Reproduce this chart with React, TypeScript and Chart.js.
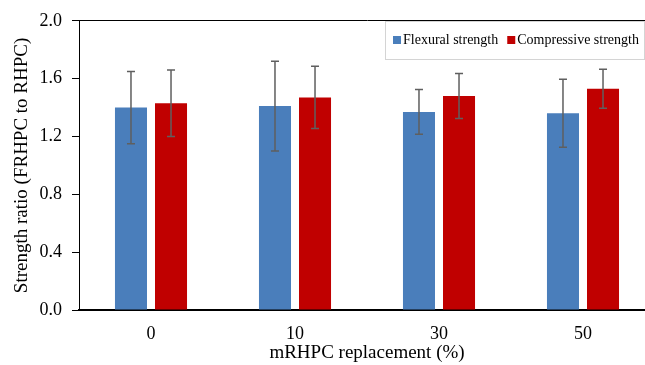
import React, { useEffect, useRef } from 'react';
import { Chart, registerables } from 'chart.js';

Chart.register(...registerables);

const categories = ['0', '10', '30', '50'];
const flexural = [1.40, 1.41, 1.37, 1.36];
const flexuralErr = [0.25, 0.31, 0.155, 0.235];
const compressive = [1.43, 1.47, 1.48, 1.53];
const compressiveErr = [0.23, 0.215, 0.155, 0.135];
const seriesLabels = ['Flexural strength', 'Compressive strength'];
const seriesColors = ['#4a7ebb', '#c00000'];
const yMin = 0;
const yMax = 2.0;
const yStep = 0.4;
const xTitle = 'mRHPC replacement (%)';
const yTitle = 'Strength ratio (FRHPC to RHPC)';

const errors = [flexuralErr, compressiveErr];
const FONT = '"Liberation Serif", "Times New Roman", serif';

const errorBarPlugin = {
  id: 'errorBars',
  afterDatasetsDraw(chart: any) {
    const ctx = chart.ctx;
    const yScale = chart.scales.y;
    ctx.save();
    ctx.strokeStyle = '#5f5f5f';
    ctx.lineWidth = 1.5;
    chart.data.datasets.forEach((ds: any, di: number) => {
      const meta = chart.getDatasetMeta(di);
      meta.data.forEach((bar: any, i: number) => {
        const v = ds.data[i];
        const e = errors[di][i];
        const top = yScale.getPixelForValue(v + e);
        const bot = yScale.getPixelForValue(v - e);
        const x = bar.x;
        ctx.beginPath();
        ctx.moveTo(x, top);
        ctx.lineTo(x, bot);
        ctx.moveTo(x - 4, top);
        ctx.lineTo(x + 4, top);
        ctx.moveTo(x - 4, bot);
        ctx.lineTo(x + 4, bot);
        ctx.stroke();
      });
    });
    ctx.restore();
  },
};

const boxLegendPlugin = {
  id: 'boxLegend',
  afterDraw(chart: any) {
    const ctx = chart.ctx;
    ctx.save();
    ctx.fillStyle = '#ffffff';
    ctx.fillRect(385.5, 21.5, 259, 38);
    ctx.strokeStyle = '#d4d4d4';
    ctx.lineWidth = 1;
    ctx.strokeRect(385.5, 21.5, 259, 38);
    ctx.font = `14px ${FONT}`;
    ctx.textBaseline = 'middle';
    ctx.textAlign = 'left';
    let x = 393;
    chart.data.datasets.forEach((ds: any) => {
      ctx.fillStyle = ds.backgroundColor;
      ctx.fillRect(x, 36, 8, 8);
      ctx.fillStyle = '#000';
      ctx.fillText(ds.label, x + 10, 40);
      x += 10 + ctx.measureText(ds.label).width + 9;
    });
    ctx.restore();
  },
};

export default function App() {
  const canvasRef = useRef<HTMLCanvasElement | null>(null);

  useEffect(() => {
    document.body.style.margin = '0';
    const canvas = canvasRef.current;
    if (!canvas) return;
    const chart = new Chart(canvas, {
      type: 'bar',
      data: {
        labels: categories,
        datasets: [
          {
            label: seriesLabels[0],
            data: flexural,
            backgroundColor: seriesColors[0],
            categoryPercentage: 0.556,
            barPercentage: 0.8,
          },
          {
            label: seriesLabels[1],
            data: compressive,
            backgroundColor: seriesColors[1],
            categoryPercentage: 0.556,
            barPercentage: 0.8,
          },
        ],
      },
      options: {
        responsive: false,
        animation: false,
        layout: { padding: { top: 15, right: 5, left: 0, bottom: 0 } },
        plugins: {
          legend: { display: false },
          tooltip: { enabled: false },
        },
        scales: {
          x: {
            grid: { display: false, drawTicks: false },
            border: { display: true, color: '#000', width: 2 },
            ticks: { font: { family: FONT, size: 18 }, color: '#000', padding: 13 },
            title: {
              display: true,
              text: xTitle,
              font: { family: FONT, size: 19 },
              color: '#000',
              padding: { top: 0, bottom: 0.5 },
            },
            afterFit: (s: any) => {
              s.height = 55;
            },
          },
          y: {
            min: yMin,
            max: yMax,
            ticks: {
              stepSize: yStep,
              font: { family: FONT, size: 18 },
              color: '#000',
              padding: 10,
              callback: (v: any) => Number(v).toFixed(1),
            },
            grid: {
              display: true,
              drawOnChartArea: true,
              drawTicks: true,
              tickLength: 7,
              tickColor: '#000',
              color: (c: any) =>
                c.tick && Math.abs(c.tick.value - yMax) < 1e-9 ? '#000' : 'rgba(0,0,0,0)',
              lineWidth: 1,
            },
            border: { display: true, color: '#000', width: 1 },
            title: {
              display: true,
              text: yTitle,
              font: { family: FONT, size: 19 },
              color: '#000',
              padding: { top: 10.5, bottom: 0 },
            },
            afterFit: (s: any) => {
              s.width = 79;
            },
          },
        },
      },
      plugins: [errorBarPlugin, boxLegendPlugin],
    });
    return () => chart.destroy();
  }, []);

  return (
    <div style={{ width: 645, height: 365, overflow: 'hidden', position: 'relative' }}>
      <canvas ref={canvasRef} width={660} height={365} style={{ display: 'block' }} />
    </div>
  );
}
